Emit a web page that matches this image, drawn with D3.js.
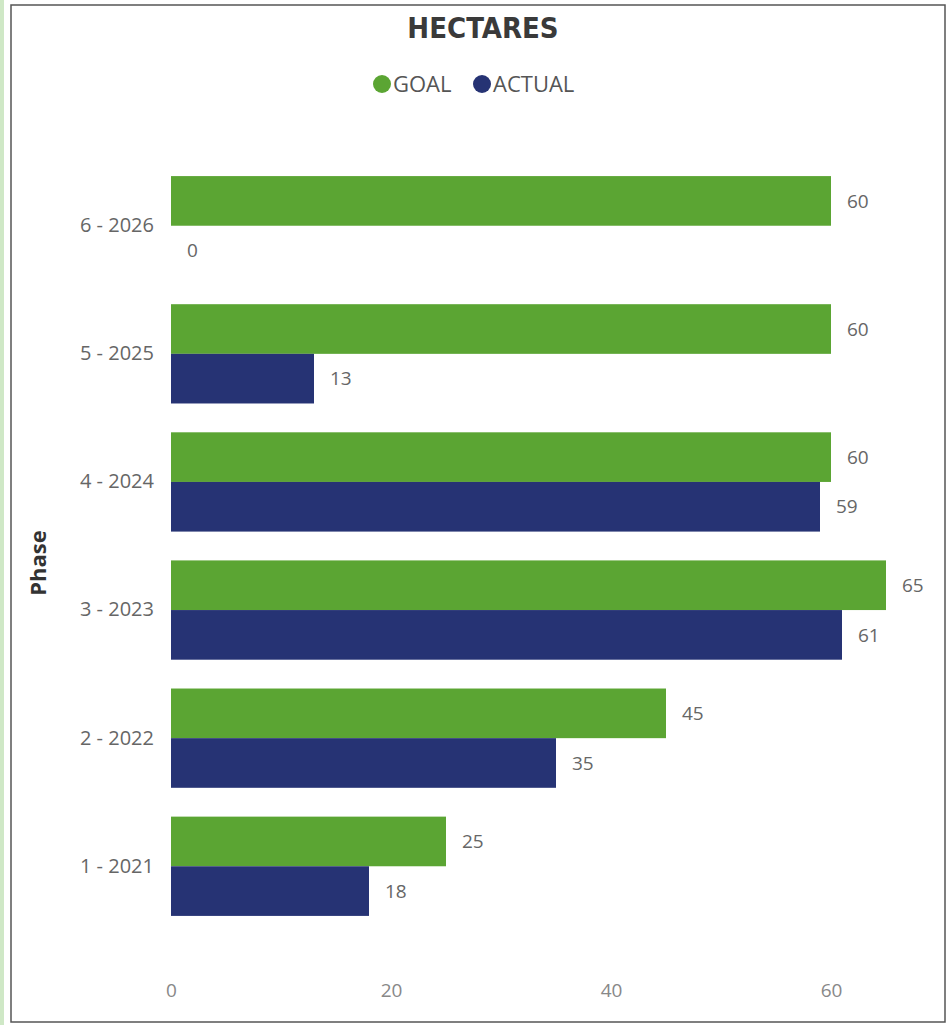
<!DOCTYPE html><html><head><meta charset="UTF-8"><script src="https://d3js.org/d3.v7.min.js"></script><style>
    body { margin: 0; background: #fff; }
    svg { display: block; font-family: "Open Sans", "Noto Sans", sans-serif; }
</style></head><body><div id="chart"></div><script>
    const phases = ["6 - 2026", "5 - 2025", "4 - 2024", "3 - 2023", "2 - 2022", "1 - 2021"];
    const goal = [60, 60, 60, 65, 45, 25];
    const actual = [0, 13, 59, 61, 35, 18];
    const seriesNames = ["GOAL", "ACTUAL"];
    const seriesColors = ["#5ba533", "#263374"];
    const xTicks = [0, 20, 40, 60];

    const W = 948, H = 1025;
    const svg = d3.select('#chart').append('svg')
        .attr('width', W)
        .attr('height', H);

    // frame
    svg.append('rect').attr('x', 0).attr('y', 0).attr('width', 4).attr('height', H).attr('fill', '#cfe8c6');
    svg.append('rect').attr('x', 11).attr('y', 5).attr('width', 934).attr('height', 1017)
        .attr('fill', 'none').attr('stroke', '#555').attr('stroke-width', 1.5);

    const x = d3.scaleLinear().domain([0, 60]).range([171, 831]);
    const y = d3.scaleBand().domain(phases).range([162, 930]).paddingInner(0.225).paddingOuter(0.11);
    const sub = d3.scaleBand().domain(seriesNames).range([0, y.bandwidth()]);

    // title
    svg.append('text')
        .attr('x', 483).attr('y', 38)
        .attr('text-anchor', 'middle')
        .attr('font-family', '"DejaVu Sans Condensed", "DejaVu Sans", sans-serif')
        .attr('font-weight', 'bold')
        .attr('font-size', 29)
        .attr('fill', '#3a3a3a')
        .text('HECTARES');

    // legend
    const legend = [{ name: "GOAL", cx: 382 }, { name: "ACTUAL", cx: 482 }];
    legend.forEach((d, i) => {
        svg.append('circle').attr('cx', d.cx).attr('cy', 84).attr('r', 9).attr('fill', seriesColors[i]);
        svg.append('text').attr('x', d.cx + 11).attr('y', 92)
            .attr('font-size', 22).attr('fill', '#555').text(d.name);
    });

    // axis title
    svg.append('text')
        .attr('transform', 'translate(46,563) rotate(-90)')
        .attr('text-anchor', 'middle')
        .attr('font-weight', 'bold')
        .attr('font-size', 22)
        .attr('fill', '#333')
        .text('Phase');

    // y axis labels
    const yAxis = svg.append('g')
        .attr('transform', 'translate(171,0)')
        .call(d3.axisLeft(y).tickSize(0).tickPadding(17));
    yAxis.select('.domain').remove();
    yAxis.selectAll('text').attr('font-size', 20).attr('fill', '#666').attr('font-family', '"Open Sans", sans-serif');

    // x axis labels
    const xAxis = svg.append('g')
        .attr('transform', 'translate(0,976)')
        .call(d3.axisBottom(x).tickValues(xTicks).tickSize(0).tickPadding(8));
    xAxis.select('.domain').remove();
    xAxis.selectAll('text').attr('font-size', 19).attr('fill', '#888').attr('font-family', '"Open Sans", sans-serif');

    const rows = phases.map((p, i) => ({ phase: p, values: [goal[i], actual[i]] }));

    const groups = svg.selectAll('.grp').data(rows).enter().append('g')
        .attr('class', 'grp')
        .attr('transform', d => `translate(0,${y(d.phase)})`);

    groups.selectAll('rect').data(d => d.values.map((v, i) => ({ key: seriesNames[i], v, i })))
        .enter().append('rect')
        .attr('x', x(0))
        .attr('y', d => sub(d.key))
        .attr('width', d => x(d.v) - x(0))
        .attr('height', sub.bandwidth())
        .attr('fill', d => seriesColors[d.i]);

    groups.selectAll('.lbl').data(d => d.values.map((v, i) => ({ key: seriesNames[i], v, i })))
        .enter().append('text')
        .attr('class', 'lbl')
        .attr('x', d => x(d.v) + 16)
        .attr('y', d => sub(d.key) + sub.bandwidth() / 2)
        .attr('dy', '0.35em')
        .attr('font-size', 19)
        .attr('fill', '#666')
        .text(d => d.v);
</script></body></html>
